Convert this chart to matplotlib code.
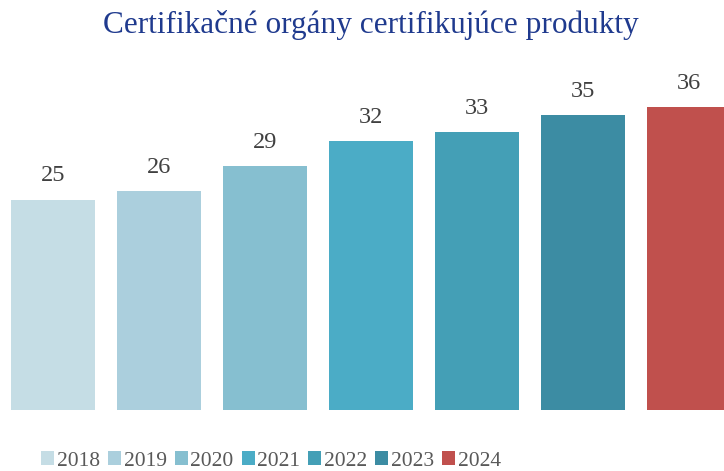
import matplotlib.pyplot as plt
from matplotlib.patches import Patch

# data
years = ['2018', '2019', '2020', '2021', '2022', '2023', '2024']
counts = [25, 26, 29, 32, 33, 35, 36]
colors = ['#C5DDE5', '#ABCFDD', '#86BFD0', '#4BACC6', '#449FB6', '#3C8CA3', '#C0504D']
title = 'Certifikačné orgány certifikujúce produkty'

plt.rcParams['font.family'] = ['Liberation Serif', 'DejaVu Serif']

W, H = 724, 471
fig = plt.figure(figsize=(W / 100, H / 100), dpi=100)
# plot area: bars sit on y=410px, 60px from top
ax = fig.add_axes([0, (H - 410) / H, 1, (410 - 60) / H])

x = list(range(len(years)))
bars = ax.bar(x, counts, width=84 / 106, color=colors)
ax.set_xlim(-0.5, (W - 53) / 106)
ax.set_ylim(0, 36 * 350 / 303)

for xi, v in zip(x, counts):
    ax.annotate(str(v), (xi, v), xytext=(0, 17), textcoords='offset points',
                ha='center', va='center', fontsize=17.5, color='#404040')

ax.axis('off')

fig.text(371 / W, 1 - 25 / H, title, ha='center', va='center',
         fontsize=22.5, color='#1F3A8E')

handles = [Patch(facecolor=c, edgecolor='none') for c in colors]
fig.legend(handles, years, loc='center', bbox_to_anchor=(271 / W, 1 - 461 / H),
           ncol=7, frameon=False, fontsize=15.5, handlelength=0.6, handleheight=0.6,
           handletextpad=0.12, columnspacing=0.38, labelcolor='#595959')

fig.savefig('out.png', dpi=100)
